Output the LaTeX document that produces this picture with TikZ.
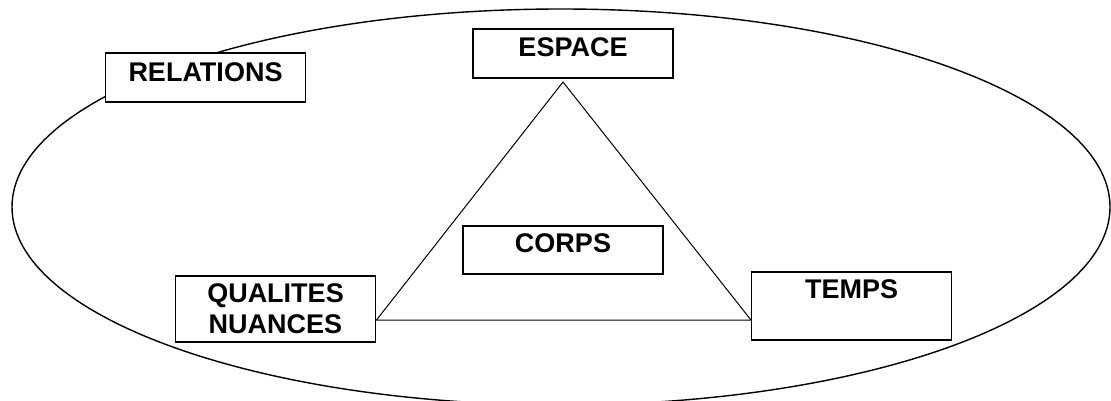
\documentclass[tikz,border=0pt]{standalone}
\usepackage{fontspec}
\setmainfont{Liberation Sans}
\begin{document}
\begin{tikzpicture}[x=1pt,y=-1pt,
  boxnode/.style={draw=black, line width=1.6pt, fill=white, inner sep=0pt, minimum width=200pt},
  lbl/.style={inner sep=0pt, anchor=base, font=\fontsize{27}{31}\selectfont\bfseries},
  ringline/.style={line width=1.4pt},
  triline/.style={line width=1pt, line join=miter}]
\useasboundingbox (0,0) rectangle (1111,401);
% outer ellipse
\draw[ringline] (561,207) ellipse [x radius=549, y radius=198];
% triangle corners
\coordinate (apex) at (563,82);
\coordinate (left) at (376.5,320);
\coordinate (right) at (751,320);
\draw[triline] (apex) -- (left) -- (right) -- cycle;
% boxes
\node[boxnode, minimum height=49pt] (relations) at (205.5,77.5) {};
\node[boxnode, minimum height=49pt] (espace) at (573,53.5) {};
\node[boxnode, minimum height=48pt] (corps) at (563,250) {};
\node[boxnode, minimum height=66pt] (qualites) at (275.5,309) {};
\node[boxnode, minimum height=68pt] (temps) at (851.5,306) {};
% labels
\node[lbl] (trelations) at (205.5,82) {RELATIONS};
\node[lbl] (tespace) at (573,57) {ESPACE};
\node[lbl] (tcorps) at (563,252) {CORPS};
\node[lbl] (tqual) at (275.5,302) {QUALITES};
\node[lbl] (tnuan) at (275.5,333) {NUANCES};
\node[lbl] (ttemps) at (851.5,298) {TEMPS};
\end{tikzpicture}
\end{document}
